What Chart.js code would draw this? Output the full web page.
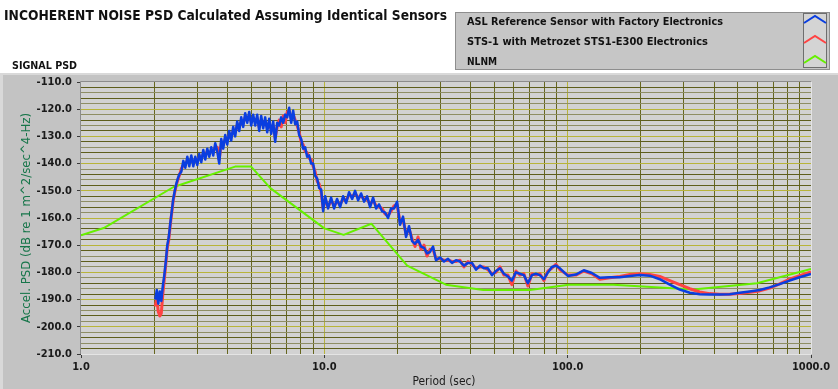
<!DOCTYPE html>
<html>
<head>
<meta charset="utf-8">
<script src="https://cdn.jsdelivr.net/npm/chart.js@4.4.0/dist/chart.umd.min.js"></script>
<style>
  html, body { margin: 0; padding: 0; background: #fff; }
  #wrap { width: 838px; height: 389px; }
</style>
</head>
<body>
<div id="wrap"><canvas id="psdChart" width="838" height="389"></canvas></div>
<script>
const chartTitle = 'INCOHERENT NOISE PSD Calculated Assuming Identical Sensors';
const panelTitle = 'SIGNAL PSD';
const xTitle = 'Period (sec)';
const yTitle = 'Accel. PSD (dB re 1 m^2/sec^4-Hz)';
const seriesNames = ['ASL Reference Sensor with Factory Electronics', 'STS-1 with Metrozet STS1-E300 Electronics', 'NLNM'];

// periods (sec) shared by both measured curves
const periods = [
  2.02, 2.049, 2.078, 2.108, 2.138, 2.169, 2.2, 2.231, 2.263, 2.295, 2.328, 2.361, 2.394, 2.429, 2.463, 2.499, 2.534,
  2.583, 2.633, 2.683, 2.735, 2.786, 2.84, 2.894, 2.949, 3.005, 3.062,
  3.121, 3.181, 3.241, 3.303, 3.366, 3.43, 3.495, 3.562, 3.63, 3.699,
  3.77, 3.842, 3.915, 3.99, 4.066, 4.143, 4.222, 4.303, 4.385, 4.469,
  4.554, 4.641, 4.73, 4.82, 4.912, 5.006, 5.101, 5.199, 5.298, 5.399,
  5.503, 5.608, 5.714, 5.824, 5.935, 6.048, 6.163, 6.281, 6.401, 6.523,
  6.648, 6.775, 6.904, 7.036, 7.17, 7.307, 7.446, 7.588, 7.733, 7.881,
  8.032, 8.185, 8.341, 8.5, 8.662, 8.828, 8.996, 9.168, 9.343, 9.521,
  9.703, 9.888, 10.08,
  10.36, 10.66, 10.97, 11.28, 11.61, 11.94, 12.29, 12.64, 13.01, 13.38,
  13.77, 14.16, 14.57, 14.99, 15.42, 15.86, 16.32, 16.79, 17.27, 17.77,
  18.28, 18.8, 19.34, 19.9, 20.47, 21.06, 21.67, 22.29, 22.93, 23.59,
  24.27, 24.97, 25.68, 26.42, 27.18, 27.97, 28.77,
  29.89, 31.04, 32.23, 33.47, 34.75, 36.1, 37.49, 38.93, 40.43, 42,
  43.61, 45.29, 47.03, 48.85, 50.73, 52.7, 54.72, 56.82, 59.01, 61.29,
  63.64, 66.09, 68.63, 71.28, 74.05, 76.89, 79.85, 82.93, 86.11, 89.44, 92.9,
  100.2, 108.1, 116.5, 125.7, 135.6, 149, 163.8, 180, 197.9, 217.5,
  239.1, 262.8, 288.8, 317.5, 348.9, 383.5, 421.5, 463.3, 509.3, 559.7,
  615.2, 676.1, 743.2, 816.8, 897.8, 1000
];

const aslPsd = [
  -190, -186.5, -191.5, -187, -190.5, -185, -181, -176, -170, -167, -162, -157.5, -153, -150, -147.5, -145.5, -144,
  -143, -139, -141.5, -137.5, -141, -137, -141, -137.5, -140.5, -136.5,
  -139.5, -135, -138.5, -134.5, -137.5, -134, -137, -132.5, -135.5, -140,
  -131, -134.5, -129.5, -133, -128, -131.5, -126.5, -130, -124.5, -128,
  -123, -126.5, -121.5, -125, -121, -126, -122, -126, -122, -128,
  -122.5, -127, -123, -128.5, -123.5, -129, -124.5, -132, -125, -126,
  -123, -125, -122, -123, -119.5, -125, -120.5, -125.5, -124.5, -129.5,
  -131, -134.5, -134, -137.5, -137, -140, -140, -144.5, -145.5, -149,
  -149.5, -157.5, -152,
  -156.5, -152.5, -156.5, -153, -156, -152, -154.5, -150.5, -153, -150,
  -153.5, -151, -154, -152, -156, -152.5, -156.5, -155, -157.5, -158,
  -160, -156.5, -156.5, -154, -162.5, -159.5, -167, -163, -168.5, -169.5,
  -168, -170.5, -171, -173, -172.5, -170.5, -175.5,
  -174.5, -176, -175, -176.5, -175.5, -176, -177.5, -176.5, -176.5, -179,
  -177.5, -178.5, -178.5, -181, -179.5, -178.5, -180.5, -181.5, -183, -180,
  -180.5, -181, -184, -181, -180.5, -181, -182.5, -180, -178, -177.5, -178.5,
  -181.3, -180.8, -179.2, -180.2, -182, -181.8, -181.8, -181.3, -181, -181.2,
  -182.5, -184.5, -186.3, -187.5, -188, -188.1, -188.1, -188, -187.5, -187,
  -186.5, -185.5, -184.3, -183, -181.8, -180.6
];

const sts1Psd = [
  -192.5, -189.5, -194.5, -196, -195, -188, -182.5, -177, -171, -168, -162.5, -158, -153.5, -150.5, -148, -146, -144.5,
  -142, -140.5, -140, -139, -139.5, -138.5, -139.5, -139, -139, -137.5,
  -138, -136.5, -137, -135.5, -136, -135.5, -135.5, -134, -134, -138.5,
  -132.5, -133, -131, -131.5, -129.5, -130, -128, -128.5, -126, -126.5,
  -124.5, -125, -123, -123.5, -122.3, -124.5, -123.5, -124.3, -123.3, -126.5,
  -124, -125, -124.5, -126.5, -125, -127.5, -126, -130.5, -126.5, -124,
  -126.5, -122.5, -125, -121, -120.5, -123.5, -122, -124, -126, -128.5,
  -132, -133, -135.5, -136, -138, -138.5, -141, -143, -146.5, -147.5,
  -150.5, -156.5, -153,
  -156, -153.5, -155.5, -154, -155, -153, -153.5, -151.5, -152, -151,
  -152.5, -152, -153, -153, -155, -153.5, -155.5, -156, -156.5, -158.5,
  -159, -157.5, -155.5, -155, -161.5, -160.5, -166, -164, -167.5, -170.5,
  -167, -171.5, -170, -174, -171.5, -171.5, -175,
  -175, -175.5, -175.5, -176, -176, -175.5, -178, -176, -177, -178.5,
  -178, -178, -179, -180.5, -180, -178, -181, -181, -184.5, -179.5,
  -181, -180.5, -185, -180.5, -181, -180.5, -183, -179.5, -178.5, -177, -179,
  -181, -181, -179.5, -180.5, -182.5, -182, -181.5, -180.8, -180.5, -180.8,
  -181.5, -183, -184.5, -186, -187.2, -187.8, -188, -188, -187.8, -187.3,
  -186.8, -185.8, -184.2, -182.5, -181.2, -179.8
];

const nlnmPeriods = [1, 1.24, 2.4, 4.3, 5, 6, 10, 12, 15.6, 21.9, 31.6, 45, 70, 101, 154, 328, 600, 1000];
const nlnmPsd = [-166.4, -163.7, -148.6, -141.1, -141.1, -149.0, -163.8, -166.2, -162.1, -177.5, -184.5, -186.5, -186.5, -184.5, -184.5, -186.3, -184, -178.7];

const xMajorTicks = [1, 10, 100, 1000];
const yTickLabels = [-110, -120, -130, -140, -150, -160, -170, -180, -190, -200, -210];

const seriesColors = ['#0a3ee0', '#ff4343', '#66f000'];
const tickFont = { family: "'DejaVu Sans Condensed', 'DejaVu Sans', sans-serif", size: 11, weight: 'bold' };

function toPoints(xs, ys) {
    return xs.map((x, i) => ({ x: x, y: ys[i] }));
}

// draw text squeezed/stretched to the width it has in the original
function fitText(ctx, text, x, y, width, font, color, align) {
    ctx.save();
    ctx.font = font;
    ctx.fillStyle = color;
    ctx.textBaseline = 'alphabetic';
    const w = ctx.measureText(text).width;
    const k = width / w;
    let left = x;
    if (align === 'center') left = x - width / 2;
    ctx.translate(left, y);
    ctx.scale(k, 1);
    ctx.textAlign = 'left';
    ctx.fillText(text, 0, 0);
    ctx.restore();
}

function drawCaret(ctx, x, y, color) {
    ctx.save();
    ctx.strokeStyle = color;
    ctx.lineWidth = 2;
    ctx.beginPath();
    ctx.moveTo(x, y + 7);
    ctx.lineTo(x + 11, y);
    ctx.lineTo(x + 22, y + 7);
    ctx.stroke();
    ctx.restore();
}

const panelPlugin = {
    id: 'panel',
    beforeDraw(chart) {
        const { ctx, chartArea: a } = chart;
        ctx.save();
        ctx.fillStyle = '#ffffff';
        ctx.fillRect(0, 0, 838, 389);
        ctx.fillStyle = '#c3c3c3';
        ctx.fillRect(0, 73, 838, 316);
        ctx.fillStyle = '#d9d9d9';
        ctx.fillRect(0, 73, 838, 2);
        ctx.fillRect(0, 73, 3, 316);
        ctx.fillStyle = '#d2d2d2';
        ctx.fillRect(a.left, a.top, a.width, a.height);
        ctx.restore();
    },
    afterDraw(chart) {
        const { ctx, chartArea: a } = chart;
        ctx.save();
        // plot frame
        ctx.strokeStyle = '#8c8c8c';
        ctx.lineWidth = 1;
        ctx.beginPath();
        ctx.moveTo(a.left - 0.5, a.bottom);
        ctx.lineTo(a.left - 0.5, a.top - 0.5);
        ctx.lineTo(a.right, a.top - 0.5);
        ctx.stroke();
        ctx.strokeStyle = '#e4e4e4';
        ctx.beginPath();
        ctx.moveTo(a.right + 0.5, a.top);
        ctx.lineTo(a.right + 0.5, a.bottom + 0.5);
        ctx.lineTo(a.left, a.bottom + 0.5);
        ctx.stroke();

        fitText(ctx, chartTitle, 4, 20, 443, "bold 14px 'DejaVu Sans', sans-serif", '#111', 'left');
        fitText(ctx, panelTitle, 12, 69, 65, "bold 11px 'DejaVu Sans', sans-serif", '#111', 'left');
        fitText(ctx, xTitle, 444, 385, 63, "12px 'DejaVu Sans', sans-serif", '#1c1c1c', 'center');

        ctx.save();
        ctx.translate(30, (a.top + a.bottom) / 2);
        ctx.rotate(-Math.PI / 2);
        fitText(ctx, yTitle, 0, 0, 210, "12px 'DejaVu Sans', sans-serif", '#17764a', 'center');
        ctx.restore();

        // legend box
        ctx.fillStyle = '#c6c6c6';
        ctx.fillRect(455, 12, 375, 58);
        ctx.strokeStyle = '#8e8e8e';
        ctx.strokeRect(455.5, 12.5, 374, 57);
        ctx.fillStyle = '#d4d4d4';
        ctx.fillRect(803, 13, 24, 55);
        ctx.strokeStyle = '#6e6e6e';
        ctx.strokeRect(803.5, 13.5, 23, 54);
        const widths = [256, 241, 30];
        chart.data.datasets.forEach((ds, i) => {
            const y = 25 + i * 20;
            fitText(ctx, ds.label, 467, y, widths[i], "bold 11px 'DejaVu Sans', sans-serif", '#111', 'left');
            drawCaret(ctx, 804, 16 + i * 20, ds.borderColor);
        });
        ctx.restore();
    }
};

const ctx = document.getElementById('psdChart').getContext('2d');
new Chart(ctx, {
    type: 'line',
    data: {
        datasets: [{
            label: seriesNames[0],
            data: toPoints(periods, aslPsd),
            borderColor: seriesColors[0],
            borderWidth: 2.5,
            order: 0
        }, {
            label: seriesNames[1],
            data: toPoints(periods, sts1Psd),
            borderColor: seriesColors[1],
            borderWidth: 3,
            order: 1
        }, {
            label: seriesNames[2],
            data: toPoints(nlnmPeriods, nlnmPsd),
            borderColor: seriesColors[2],
            borderWidth: 2,
            order: 2
        }]
    },
    options: {
        responsive: false,
        animation: false,
        devicePixelRatio: 1,
        layout: { padding: { left: 0, right: 27, top: 82, bottom: 0 } },
        elements: {
            point: { radius: 0 },
            line: { tension: 0, borderJoinStyle: 'round', fill: false }
        },
        plugins: {
            legend: { display: false },
            tooltip: { enabled: false }
        },
        scales: {
            x: {
                type: 'logarithmic',
                min: 1,
                max: 1000,
                afterBuildTicks: scale => {
                    const ticks = [];
                    xMajorTicks.slice(0, -1).forEach(d => {
                        for (let k = 1; k < 10; k++) ticks.push({ value: d * k, major: k === 1 });
                    });
                    ticks.push({ value: xMajorTicks[xMajorTicks.length - 1], major: true });
                    scale.ticks = ticks;
                },
                afterFit: scale => { scale.height = 35; },
                border: { display: false },
                grid: {
                    lineWidth: 1,
                    color: c => {
                        const v = c.tick && c.tick.value;
                        if (v === 1 || v === 1000) return 'rgba(0,0,0,0)';
                        return xMajorTicks.includes(v) ? '#b8b43a' : '#66661f';
                    },
                    tickLength: 4,
                    tickColor: c => xMajorTicks.includes(c.tick && c.tick.value) ? '#3a3a3a' : 'rgba(0,0,0,0)'
                },
                ticks: {
                    autoSkip: false,
                    maxRotation: 0,
                    minRotation: 0,
                    padding: 3,
                    color: '#1a1a1a',
                    font: tickFont,
                    callback: value => xMajorTicks.includes(value) ? value.toFixed(1) : ''
                }
            },
            y: {
                type: 'linear',
                min: -210,
                max: -110,
                afterFit: scale => { scale.width = 81; },
                border: { display: false },
                grid: {
                    lineWidth: 1,
                    color: c => {
                        const v = c.tick && c.tick.value;
                        if (v === -110 || v === -210) return 'rgba(0,0,0,0)';
                        if (yTickLabels.includes(v)) return '#b8b43a';
                        return Math.abs(v / 2) % 2 === 0 ? '#5e5e1c' : '#8e8e64';
                    },
                    tickLength: 4,
                    tickColor: c => yTickLabels.includes(c.tick && c.tick.value) ? '#3a3a3a' : 'rgba(0,0,0,0)'
                },
                ticks: {
                    autoSkip: false,
                    stepSize: 2,
                    padding: 5,
                    color: '#1a1a1a',
                    font: tickFont,
                    callback: value => yTickLabels.includes(value) ? value.toFixed(1) : ''
                }
            }
        }
    },
    plugins: [panelPlugin]
});
</script>
</body>
</html>
